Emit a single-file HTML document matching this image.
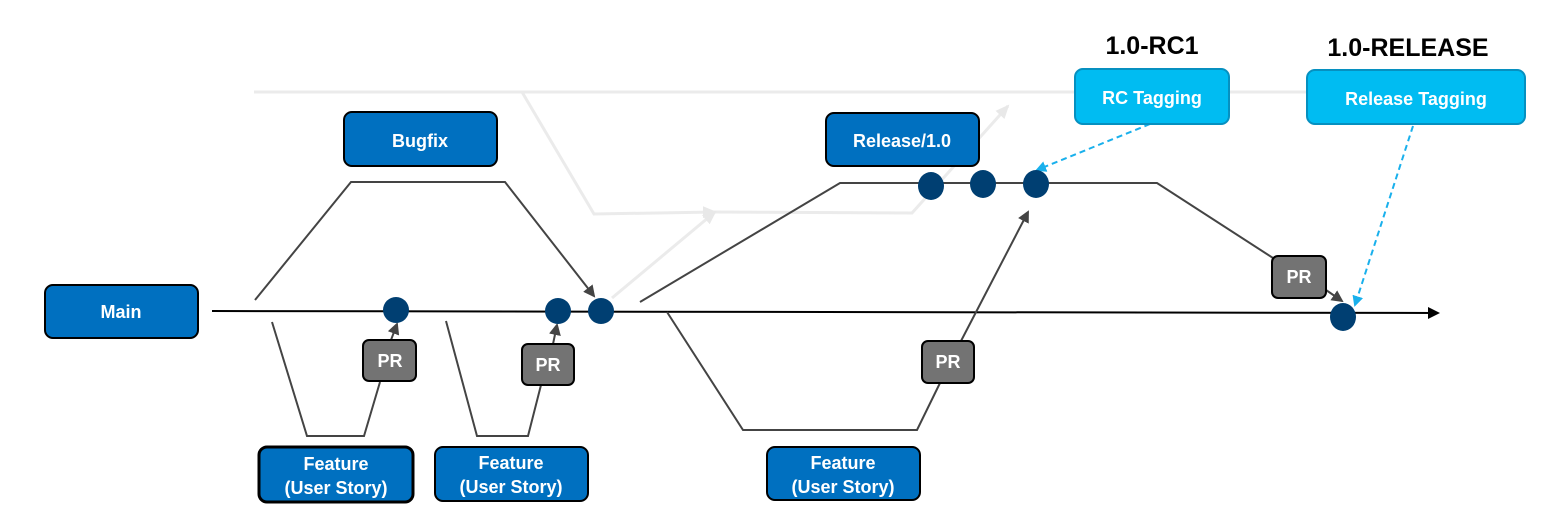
<!DOCTYPE html>
<html><head><meta charset="utf-8"><style>
html,body{margin:0;padding:0;background:#fff;width:1568px;height:527px;overflow:hidden}
svg{display:block}
text{font-family:"Liberation Sans",sans-serif;font-weight:bold}
</style></head><body>
<svg width="1568" height="527" viewBox="0 0 1568 527" xmlns="http://www.w3.org/2000/svg">
<defs>
<marker id="ad" markerWidth="12" markerHeight="12" refX="10" refY="6" orient="auto" markerUnits="userSpaceOnUse"><path d="M0,0 L12,6 L0,12 z" fill="#444"/></marker>
<marker id="ak" markerWidth="12" markerHeight="12" refX="10" refY="6" orient="auto" markerUnits="userSpaceOnUse"><path d="M0,0 L12,6 L0,12 z" fill="#000"/></marker>
<marker id="al" markerWidth="14" markerHeight="12" refX="12" refY="6" orient="auto" markerUnits="userSpaceOnUse"><path d="M0,0 L14,6 L0,12 z" fill="#e8e8e8"/></marker>
<marker id="ab" markerWidth="11" markerHeight="11" refX="9" refY="5.5" orient="auto" markerUnits="userSpaceOnUse"><path d="M0,0 L11,5.5 L0,11 z" fill="#19b0ec"/></marker>
</defs>
<g stroke="#ebebeb" stroke-width="3" fill="none">
<line x1="254" y1="92" x2="1320" y2="92"/>
<polyline points="522,92 594,214 715,212" marker-end="url(#al)"/>
<polyline points="715,212 912,213 1008,106" marker-end="url(#al)"/>
<line x1="612" y1="298" x2="715" y2="212" marker-end="url(#al)"/>
</g>
<line x1="212" y1="311" x2="1438" y2="313" stroke="#000" stroke-width="2" marker-end="url(#ak)"/>
<g stroke="#444" stroke-width="2" fill="none">
<polyline points="255,300 351,182 505,182 594,296" marker-end="url(#ad)"/>
<polyline points="272,322 307,436 364,436 380,382"/>
<line x1="391" y1="340" x2="397" y2="324" marker-end="url(#ad)"/>
<polyline points="446,321 477,436 528,436 541,385"/>
<line x1="553" y1="344" x2="557" y2="325" marker-end="url(#ad)"/>
<polyline points="667,312 743,430 917,430 940,383"/>
<line x1="961" y1="341" x2="1028" y2="212" marker-end="url(#ad)"/>
<polyline points="640,302 840,183 1157,183 1273,258"/>
<line x1="1326" y1="290" x2="1342" y2="301" marker-end="url(#ad)"/>
</g>
<g stroke="#19b0ec" stroke-width="2" stroke-dasharray="6,4" fill="none">
<line x1="1150" y1="124" x2="1037" y2="170" marker-end="url(#ab)"/>
<line x1="1413" y1="126" x2="1355" y2="305" marker-end="url(#ab)"/>
</g>
<g fill="#003f72">
<circle cx="396" cy="310" r="13"/><circle cx="558" cy="311" r="13"/><circle cx="601" cy="311" r="13"/>
<ellipse cx="931" cy="186" rx="13" ry="14"/><ellipse cx="983" cy="184" rx="13" ry="14"/><ellipse cx="1036" cy="184" rx="13" ry="14"/>
<ellipse cx="1343" cy="317" rx="13" ry="14"/>
</g>
<g fill="#0070c0" stroke="#000" stroke-width="2">
<rect x="45" y="285" width="153" height="53" rx="8"/>
<rect x="344" y="112" width="153" height="54" rx="8"/>
<rect x="826" y="113" width="153" height="53" rx="8"/>
<rect x="259" y="447" width="154" height="55" rx="8" stroke-width="3"/>
<rect x="435" y="447" width="153" height="54" rx="8"/>
<rect x="767" y="447" width="153" height="53" rx="8"/>
</g>
<g fill="#00bcf2" stroke="#0690c0" stroke-width="2">
<rect x="1075" y="69" width="154" height="55" rx="8"/>
<rect x="1307" y="70" width="218" height="54" rx="8"/>
</g>
<g fill="#737373" stroke="#000" stroke-width="2">
<rect x="363" y="340" width="53" height="41" rx="6"/>
<rect x="522" y="344" width="52" height="41" rx="6"/>
<rect x="922" y="341" width="52" height="42" rx="6"/>
<rect x="1272" y="256" width="54" height="42" rx="6"/>
</g>
<g fill="#fff" font-size="18" text-anchor="middle">
<text x="121" y="318">Main</text>
<text x="420" y="147">Bugfix</text>
<text x="902" y="147">Release/1.0</text>
<text x="336" y="470">Feature</text><text x="336" y="494">(User Story)</text>
<text x="511" y="469">Feature</text><text x="511" y="493">(User Story)</text>
<text x="843" y="469">Feature</text><text x="843" y="493">(User Story)</text>
<text x="1152" y="104">RC Tagging</text>
<text x="1416" y="105">Release Tagging</text>
<text x="390" y="367">PR</text><text x="548" y="371">PR</text>
<text x="948" y="368">PR</text><text x="1299" y="283">PR</text>
</g>
<g fill="#000" font-size="25" text-anchor="middle">
<text x="1152" y="54">1.0-RC1</text>
<text x="1408" y="56">1.0-RELEASE</text>
</g>
</svg>
</body></html>
